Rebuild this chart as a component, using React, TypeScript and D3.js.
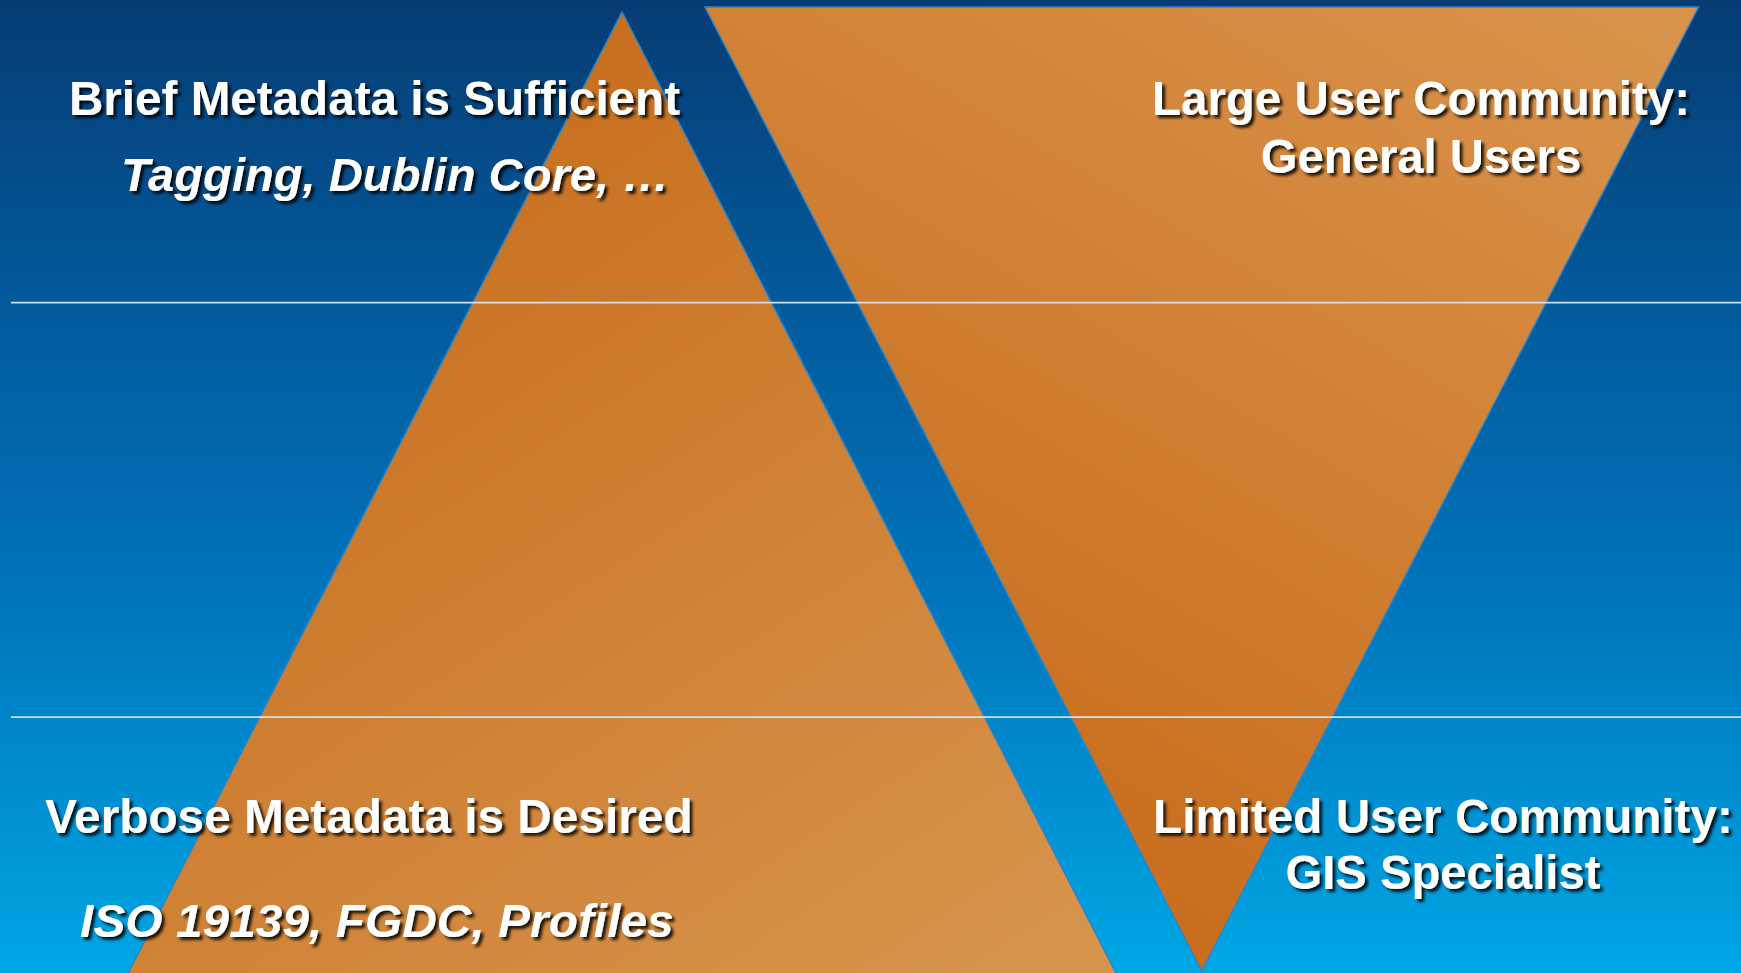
import React, { useEffect, useRef } from "react";
import * as d3 from "d3";

// Slide geometry in slide units (0..100 wide, 0..100 tall)
const upTriangle = [
  [35.73, 1.23],
  [64.3, 100.7],
  [7.16, 100.7],
];
const downTriangle = [
  [40.49, 0.72],
  [97.56, 0.72],
  [69.02, 99.8],
];
const dividerLevels = [31.1, 73.7];

// Headings
const labelText = [
  "Brief Metadata is Sufficient",
  "Tagging, Dublin Core, …",
  "Large User Community:",
  "General Users",
  "Verbose Metadata is Desired",
  "ISO 19139, FGDC, Profiles",
  "Limited User Community:",
  "GIS Specialist",
];
const labelX = [3.96, 6.95, 81.62, 81.62, 2.58, 4.6, 82.88, 82.88];
const labelY = [11.82, 19.6, 11.82, 17.75, 85.64, 96.25, 85.64, 91.4];
const labelWidth = [35.1, 31.5, 30.9, 18.4, 37.2, 34.1, 33.3, 18.1];
const labelItalic = [false, true, false, false, false, true, false, false];
const labelAnchor = ["start", "start", "middle", "middle", "start", "start", "middle", "middle"];

const W = 1741;
const H = 973;

const App = () => {
  const svgRef = useRef<SVGSVGElement>(null);

  useEffect(() => {
    const svg = d3.select(svgRef.current);
    svg.selectAll("*").remove();

    const x = d3.scaleLinear().domain([0, 100]).range([0, W]);
    const y = d3.scaleLinear().domain([0, 100]).range([0, H]);

    const defs = svg.append("defs");

    // background gradient, dark navy at top to bright blue at bottom
    const bg = defs
      .append("linearGradient")
      .attr("id", "bg")
      .attr("x1", 0)
      .attr("y1", 0)
      .attr("x2", 0)
      .attr("y2", 1);
    [
      [0, "#063c74"],
      [0.3, "#03599a"],
      [0.62, "#0075bd"],
      [1, "#00a7e5"],
    ].forEach(([o, c]) => bg.append("stop").attr("offset", o).attr("stop-color", c));

    const upGrad = defs
      .append("linearGradient")
      .attr("id", "upGrad")
      .attr("x1", 0.3)
      .attr("y1", 0.05)
      .attr("x2", 0.9)
      .attr("y2", 0.95);
    upGrad.append("stop").attr("offset", 0).attr("stop-color", "#c86d1c");
    upGrad.append("stop").attr("offset", 1).attr("stop-color", "#d6934b");

    const downGrad = defs
      .append("linearGradient")
      .attr("id", "downGrad")
      .attr("x1", 0.4)
      .attr("y1", 0.95)
      .attr("x2", 0.95)
      .attr("y2", 0.05);
    downGrad.append("stop").attr("offset", 0).attr("stop-color", "#c86d1c");
    downGrad.append("stop").attr("offset", 1).attr("stop-color", "#d9924a");

    const shadow = defs
      .append("filter")
      .attr("id", "shadow")
      .attr("x", "-5%")
      .attr("y", "-20%")
      .attr("width", "115%")
      .attr("height", "150%");
    shadow
      .append("feDropShadow")
      .attr("dx", 3)
      .attr("dy", 3)
      .attr("stdDeviation", 1.4)
      .attr("flood-color", "#000")
      .attr("flood-opacity", 0.85);

    svg
      .append("rect")
      .attr("width", W)
      .attr("height", H)
      .attr("fill", "url(#bg)");

    const line = d3
      .line<number[]>()
      .x((d) => x(d[0]))
      .y((d) => y(d[1]))
      .curve(d3.curveLinearClosed);

    svg
      .append("path")
      .attr("d", line(upTriangle))
      .attr("fill", "url(#upGrad)")
      .attr("stroke", "#2a84c8")
      .attr("stroke-width", 1.5);

    svg
      .append("path")
      .attr("d", line(downTriangle))
      .attr("fill", "url(#downGrad)")
      .attr("stroke", "#2a84c8")
      .attr("stroke-width", 1.5);

    // thin divider lines
    svg
      .selectAll(".divider")
      .data(dividerLevels)
      .join("line")
      .attr("x1", x(0.63))
      .attr("x2", W)
      .attr("y1", (d) => y(d))
      .attr("y2", (d) => y(d))
      .attr("stroke", "#d0e0f0")
      .attr("stroke-width", 1.6);

    svg
      .selectAll(".label")
      .data(labelText)
      .join("text")
      .attr("x", (d, i) => x(labelX[i]))
      .attr("y", (d, i) => y(labelY[i]))
      .attr("text-anchor", (d, i) => labelAnchor[i])
      .attr("textLength", (d, i) => x(labelWidth[i]))
      .attr("lengthAdjust", "spacingAndGlyphs")
      .attr("font-family", "'Liberation Sans', Arial, sans-serif")
      .attr("font-weight", "bold")
      .attr("font-style", (d, i) => (labelItalic[i] ? "italic" : "normal"))
      .attr("font-size", (d, i) => (labelItalic[i] ? 46 : 48))
      .attr("fill", "#ffffff")
      .attr("filter", "url(#shadow)")
      .text((d) => d);
  }, []);

  return (
    <>
      <style>{"body{margin:0;overflow:hidden}"}</style>
      <svg ref={svgRef} width={W} height={H} style={{ display: "block" }}></svg>
    </>
  );
};

export default App;
